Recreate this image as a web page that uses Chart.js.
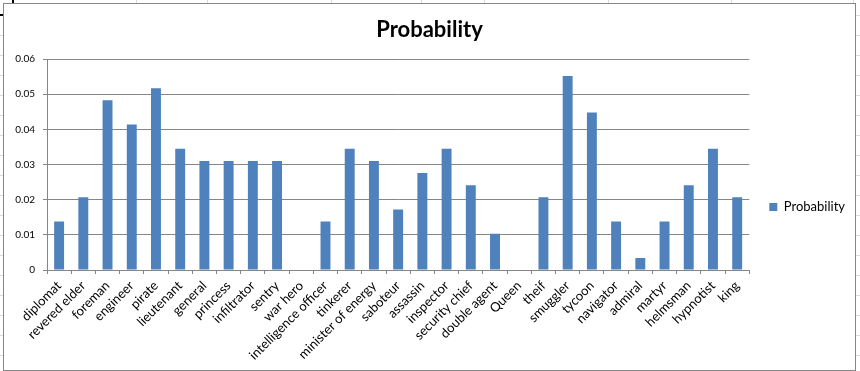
<!DOCTYPE html>
<html><head><meta charset="utf-8">
<script src="https://cdn.jsdelivr.net/npm/chart.js@4"></script>
<style>
html,body{margin:0;padding:0;background:#fff;width:860px;height:371px;overflow:hidden;position:relative}
#frame{position:absolute;left:3px;top:3px;width:853px;height:368px;border:1px solid #868686;box-sizing:border-box;background:#fff}
#frame canvas{display:block}
.hl{position:absolute;height:1px;background:#dadada}
.vl{position:absolute;width:1px;background:#dadada}
.blk{position:absolute;background:#000}
</style></head><body>
<script>
const categories = ['diplomat','revered elder','foreman','engineer','pirate','lieutenant','general','princess','infiltrator','sentry','war hero','intelligence officer','tinkerer','minister of energy','saboteur','assassin','inspector','security chief','double agent','Queen','theif','smuggler','tycoon','navigator','admiral','martyr','helmsman','hypnotist','king'];
const probability = [0.0138,0.0207,0.0483,0.0414,0.0517,0.0345,0.0310,0.0310,0.0310,0.0310,0,0.0138,0.0345,0.0310,0.0172,0.0276,0.0345,0.0241,0.0103,0,0.0207,0.0552,0.0448,0.0138,0.0034,0.0138,0.0241,0.0345,0.0207];
const yTickLabels = ['0','0.01','0.02','0.03','0.04','0.05','0.06'];
const seriesName = 'Probability';
const chartTitle = 'Probability';
</script>
<div id="deco"></div>
<div id="frame"><canvas id="c" width="851" height="366"></canvas></div>
<script>
// spreadsheet background decoration
(function(){
  const d = document.getElementById('deco');
  let h = '';
  for (let y = 15; y < 371; y += 20) {
    h += '<div class="hl" style="left:0;width:3px;top:'+y+'px"></div>';
    h += '<div class="hl" style="left:856px;width:4px;top:'+y+'px"></div>';
  }
  [136,207,331,421,484,608,731,853].forEach(x => { h += '<div class="vl" style="top:0;height:3px;left:'+x+'px"></div>'; });
  h += '<div class="blk" style="left:12px;top:0;width:2px;height:3px"></div>';
  h += '<div class="blk" style="left:0;top:14px;width:3px;height:2px"></div>';
  d.innerHTML = h;
})();

const GRID = '#868686';
const FONT = 'Lato';
const legendShift = {
  id: 'legendShift',
  afterLayout(chart) { const l = chart.legend; if (l) { l.top += 20; l.bottom += 20; } }
};
new Chart(document.getElementById('c'), {
  type: 'bar',
  data: {
    labels: categories,
    datasets: [{ label: seriesName, data: probability, backgroundColor: '#4F81BD', borderWidth: 0, barPercentage: 0.41, categoryPercentage: 1 }]
  },
  options: {
    responsive: false, animation: false, devicePixelRatio: 1,
    layout: { padding: { left: 0, right: 0, top: 0, bottom: 0 } },
    plugins: {
      title: { display: true, text: chartTitle, color: '#000', font: { family: FONT, size: 22, weight: 'bold' }, padding: { top: 13, bottom: 15.6 } },
      legend: { position: 'right', labels: { color: '#000', font: { family: FONT, size: 13 }, boxWidth: 8, boxHeight: 8, padding: 20 } },
      tooltip: { enabled: false }
    },
    scales: {
      x: {
        grid: { display: true, drawOnChartArea: false, drawTicks: true, tickLength: 4, color: GRID, offset: true },
        border: { display: true, color: GRID, width: 1 },
        ticks: { autoSkip: false, maxRotation: 45, minRotation: 45, color: '#000', font: { family: FONT, size: 13 }, padding: 4 },
        afterFit(s) { s.height = 100; }
      },
      y: {
        min: 0, max: 0.06,
        ticks: { stepSize: 0.01, color: '#000', font: { family: FONT, size: 10 }, padding: 8, callback: (v, i) => yTickLabels[i] },
        grid: { color: GRID, lineWidth: 1, tickLength: 4, drawTicks: true },
        border: { display: true, color: GRID, width: 1 },
        afterFit(s) { s.width = 43; }
      }
    }
  },
  plugins: [legendShift]
});
</script>
</body></html>
